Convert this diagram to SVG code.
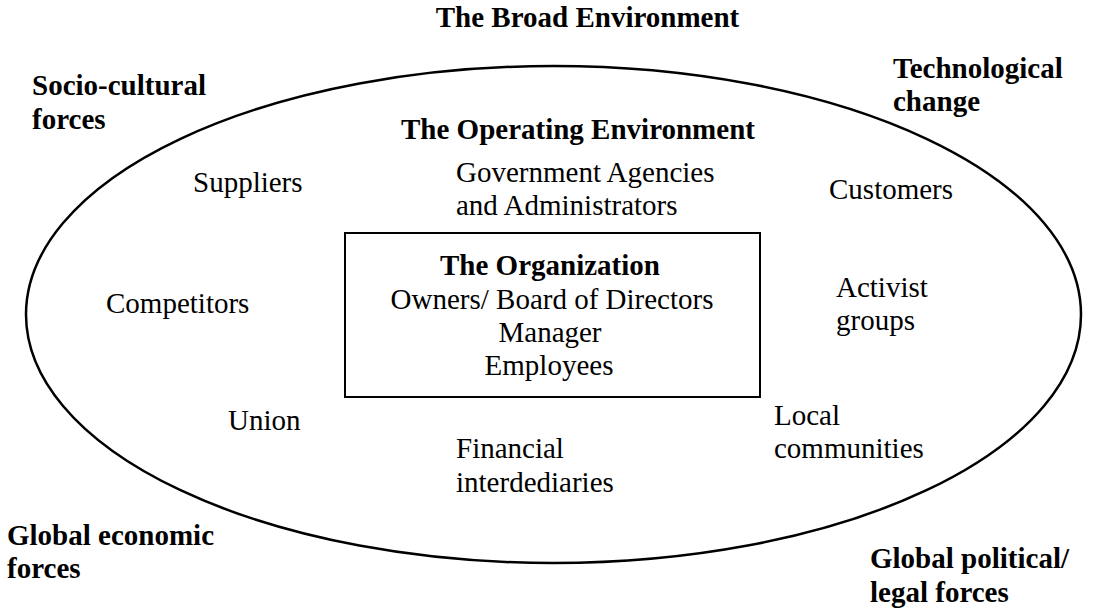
<svg xmlns="http://www.w3.org/2000/svg" width="1096" height="611" viewBox="0 0 1096 611">
<style>
text{font-family:"Liberation Serif","Times New Roman",serif;font-size:29px;fill:#000}
.b{font-weight:bold}
.c{text-anchor:middle}
</style>
<rect width="1096" height="611" fill="#fff"/>
<g id="broad-environment">
<ellipse cx="553.5" cy="314.5" rx="527.5" ry="248.5" fill="none" stroke="#000" stroke-width="2.5"/>
<text class="b c" x="587.5" y="27">The Broad Environment</text>
</g>
<g id="socio-cultural"><text class="b" x="32" y="95">Socio-cultural</text><text class="b" x="32" y="129">forces</text></g>
<g id="technological"><text class="b" x="893" y="78">Technological</text><text class="b" x="893" y="111">change</text></g>
<g id="global-economic"><text class="b" x="7" y="545">Global economic</text><text class="b" x="7" y="578">forces</text></g>
<g id="global-political"><text class="b" x="870" y="568">Global political/</text><text class="b" x="870" y="602">legal forces</text></g>
<g id="operating-environment"><text class="b" x="401" y="139">The Operating Environment</text></g>
<g id="government"><text x="456" y="182">Government Agencies</text><text x="456" y="215">and Administrators</text></g>
<g id="suppliers"><text x="193" y="192">Suppliers</text></g>
<g id="customers"><text x="829" y="199">Customers</text></g>
<g id="competitors"><text x="106" y="313">Competitors</text></g>
<g id="activist"><text x="836" y="297">Activist</text><text x="836" y="330">groups</text></g>
<g id="union"><text x="228" y="430">Union</text></g>
<g id="financial"><text x="456" y="458">Financial</text><text x="456" y="492">interdediaries</text></g>
<g id="local"><text x="774" y="425">Local</text><text x="774" y="458">communities</text></g>
<g id="organization">
<rect x="345" y="233" width="415" height="164" fill="none" stroke="#000" stroke-width="2"/>
<text class="b c" x="550" y="275">The Organization</text>
<text class="c" x="552" y="309">Owners/ Board of Directors</text>
<text class="c" x="550" y="342">Manager</text>
<text class="c" x="549" y="375">Employees</text>
</g>
<g id="connectors"></g>
</svg>
